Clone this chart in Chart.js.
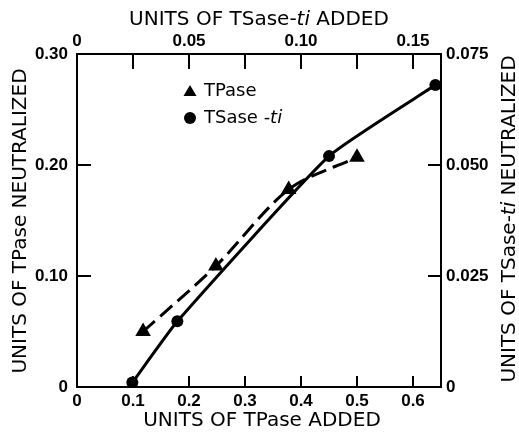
<!DOCTYPE html>
<html>
<head>
<meta charset="utf-8">
<script src="https://cdn.jsdelivr.net/npm/chart.js@4"></script>
<style>
  html, body { margin: 0; padding: 0; background: #fff; }
  canvas { display: block; }
</style>
</head>
<body>
<canvas id="chart" width="519" height="433"></canvas>
<script>
// TPase: units added (bottom axis) vs units neutralized (left axis)
const tpaseAdded = [0.118, 0.248, 0.378, 0.500];
const tpaseNeutralized = [0.050, 0.109, 0.178, 0.207];

// TSase-ti: units added (top axis) vs units neutralized (right axis)
const tsaseAdded = [0.0247, 0.0448, 0.1125, 0.160];
const tsaseNeutralized = [0.001, 0.0148, 0.052, 0.068];

// tick values
const xTicks = [0, 0.1, 0.2, 0.3, 0.4, 0.5, 0.6];
const x2Ticks = [0, 0.025, 0.05, 0.075, 0.1, 0.125, 0.15];
const x2Labels = ['0', '', '0.05', '', '0.10', '', '0.15'];
const yTicks = [0, 0.1, 0.2, 0.3];
const yLabels = ['0', '0.10', '0.20', '0.30'];
const y2Ticks = [0, 0.025, 0.05, 0.075];
const y2Labels = ['0', '0.025', '0.050', '0.075'];

const FONT = '"DejaVu Sans", Arial, sans-serif';
const tickFont = { family: '"Liberation Sans", Arial, sans-serif', size: 17, weight: 'bold' };

function setTicks(values) {
  return function (scale) {
    scale.ticks = values.map(v => ({ value: v }));
  };
}

// draw a string made of plain and italic parts, centred at (x, y)
function drawRich(ctx, parts, x, y, size, rotate) {
  ctx.save();
  ctx.translate(x, y);
  if (rotate) ctx.rotate(-Math.PI / 2);
  ctx.textBaseline = 'middle';
  ctx.textAlign = 'left';
  ctx.fillStyle = '#000';
  let total = 0;
  parts.forEach(p => {
    ctx.font = (p[1] ? 'italic ' : '') + size + 'px ' + FONT;
    total += ctx.measureText(p[0]).width;
  });
  let cx = -total / 2;
  parts.forEach(p => {
    ctx.font = (p[1] ? 'italic ' : '') + size + 'px ' + FONT;
    ctx.fillText(p[0], cx, 0);
    cx += ctx.measureText(p[0]).width;
  });
  ctx.restore();
}

const decorations = {
  id: 'decorations',
  afterDraw(chart) {
    const ctx = chart.ctx;
    const s = chart.scales;
    const area = chart.chartArea;

    // inward tick marks
    ctx.save();
    ctx.strokeStyle = '#000';
    ctx.lineWidth = 2;
    ctx.beginPath();
    s.x.ticks.forEach(t => {
      if (t.value === 0) return;
      const px = s.x.getPixelForValue(t.value);
      ctx.moveTo(px, area.bottom);
      ctx.lineTo(px, area.bottom - 11);
    });
    s.x2.ticks.forEach(t => {
      if (t.value === 0) return;
      const px = s.x2.getPixelForValue(t.value);
      ctx.moveTo(px, area.top);
      ctx.lineTo(px, area.top + 15);
    });
    s.y.ticks.forEach(t => {
      if (t.value === 0 || t.value === 0.3) return;
      const py = s.y.getPixelForValue(t.value);
      ctx.moveTo(area.left, py);
      ctx.lineTo(area.left + 14, py);
    });
    s.y2.ticks.forEach(t => {
      if (t.value === 0 || t.value === 0.075) return;
      const py = s.y2.getPixelForValue(t.value);
      ctx.moveTo(area.right, py);
      ctx.lineTo(area.right - 13, py);
    });
    ctx.stroke();
    ctx.restore();

    // axis titles
    drawRich(ctx, [['UNITS OF TSase-', false], ['ti', true], [' ADDED', false]], 259, 20, 20, false);
    drawRich(ctx, [['UNITS OF TPase ADDED', false]], 262, 421, 20, false);
    drawRich(ctx, [['UNITS OF TPase NEUTRALIZED', false]], 21, 221, 20, true);
    drawRich(ctx, [['UNITS OF TSase-', false], ['ti', true], [' NEUTRALIZED', false]], 510, 219, 20, true);

    // legend
    ctx.save();
    ctx.fillStyle = '#000';
    ctx.beginPath();
    ctx.moveTo(190, 85);
    ctx.lineTo(196.5, 96);
    ctx.lineTo(183.5, 96);
    ctx.closePath();
    ctx.fill();
    ctx.beginPath();
    ctx.arc(190, 118, 6, 0, Math.PI * 2);
    ctx.fill();
    ctx.restore();
    ctx.save();
    ctx.fillStyle = '#000';
    ctx.textBaseline = 'middle';
    ctx.font = '18px ' + FONT;
    ctx.fillText('TPase', 204, 91);
    ctx.fillText('TSase -', 204, 118);
    const w = ctx.measureText('TSase -').width;
    ctx.font = 'italic 18px ' + FONT;
    ctx.fillText('ti', 204 + w, 118);
    ctx.restore();
  }
};

new Chart(document.getElementById('chart'), {
  type: 'scatter',
  data: {
    datasets: [
      {
        label: 'TPase',
        data: tpaseAdded.map((x, i) => ({ x: x, y: tpaseNeutralized[i] })),
        xAxisID: 'x',
        yAxisID: 'y',
        showLine: true,
        borderColor: '#000',
        backgroundColor: '#000',
        borderWidth: 3,
        borderDash: [16, 7],
        tension: 0.3,
        pointStyle: 'triangle',
        pointRadius: 9,
        pointBorderWidth: 0
      },
      {
        label: 'TSase-ti',
        data: tsaseAdded.map((x, i) => ({ x: x, y: tsaseNeutralized[i] })),
        xAxisID: 'x2',
        yAxisID: 'y2',
        showLine: true,
        borderColor: '#000',
        backgroundColor: '#000',
        borderWidth: 3,
        tension: 0.15,
        pointStyle: 'circle',
        pointRadius: 6,
        pointBorderWidth: 0
      }
    ]
  },
  options: {
    responsive: false,
    animation: false,
    devicePixelRatio: 1,
    layout: { padding: 0 },
    plugins: {
      legend: { display: false },
      tooltip: { enabled: false }
    },
    scales: {
      x: {
        type: 'linear',
        position: 'bottom',
        min: 0,
        max: 0.65,
        afterBuildTicks: setTicks(xTicks),
        afterFit: s => { s.height = 46; },
        grid: { display: false, drawTicks: false },
        border: { display: true, color: '#000', width: 2 },
        ticks: {
          color: '#000',
          font: tickFont,
          padding: 4,
          maxRotation: 0,
          callback: v => (v === 0 ? '0' : v.toFixed(1))
        }
      },
      x2: {
        type: 'linear',
        position: 'top',
        min: 0,
        max: 0.1625,
        afterBuildTicks: setTicks(x2Ticks),
        afterFit: s => { s.height = 54; },
        grid: { display: false, drawTicks: false },
        border: { display: true, color: '#000', width: 2 },
        ticks: {
          color: '#000',
          font: tickFont,
          padding: 2,
          maxRotation: 0,
          autoSkip: false,
          callback: (v, i) => x2Labels[i]
        }
      },
      y: {
        type: 'linear',
        position: 'left',
        min: 0,
        max: 0.3,
        afterBuildTicks: setTicks(yTicks),
        afterFit: s => { s.width = 77; },
        grid: { display: false, drawTicks: false },
        border: { display: true, color: '#000', width: 2 },
        ticks: {
          color: '#000',
          font: tickFont,
          padding: 9,
          callback: (v, i) => yLabels[i]
        }
      },
      y2: {
        type: 'linear',
        position: 'right',
        min: 0,
        max: 0.075,
        afterBuildTicks: setTicks(y2Ticks),
        afterFit: s => { s.width = 78; },
        grid: { display: false, drawTicks: false },
        border: { display: true, color: '#000', width: 2 },
        ticks: {
          color: '#000',
          font: tickFont,
          padding: 5,
          callback: (v, i) => y2Labels[i]
        }
      }
    }
  },
  plugins: [decorations]
});
</script>
</body>
</html>
